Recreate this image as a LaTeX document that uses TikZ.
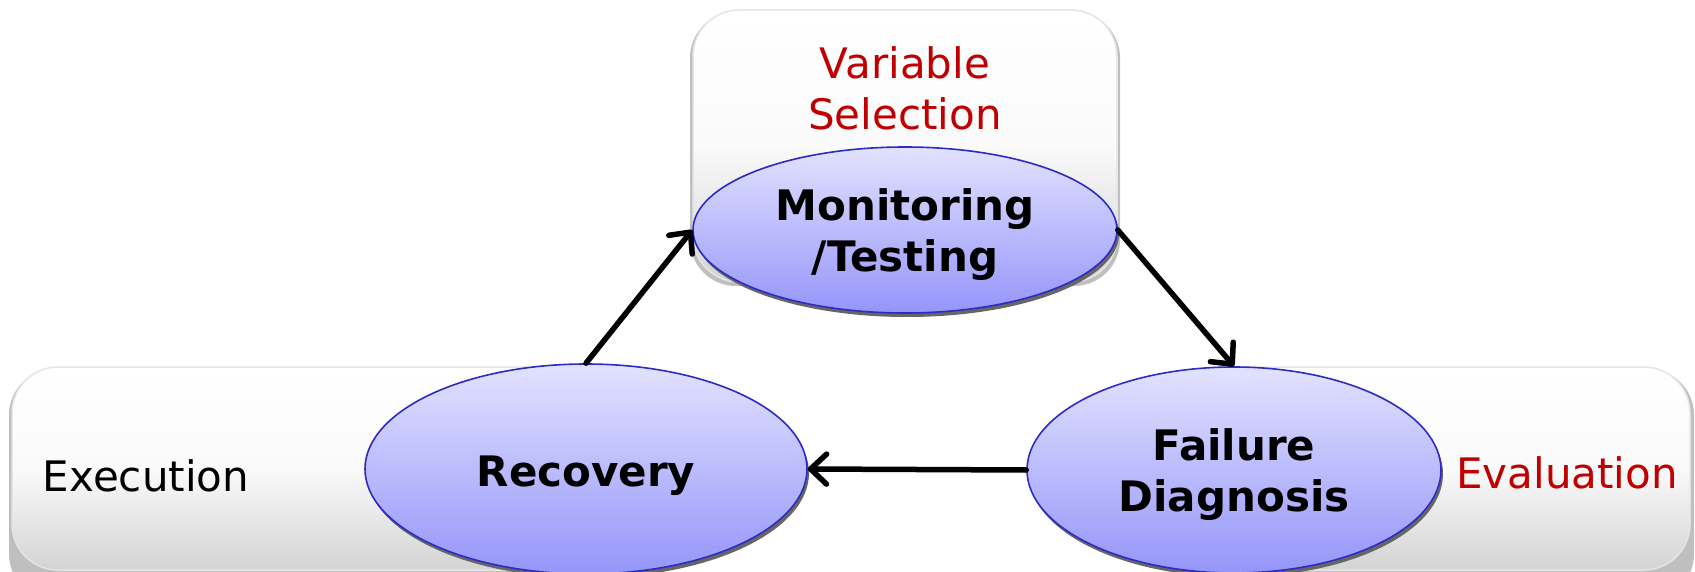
\documentclass[tikz,border=0pt]{standalone}
\usepackage{fontspec}
\setmainfont{DejaVu Sans}
\usetikzlibrary{shapes.geometric,arrows.meta,shadows}
\definecolor{stageRed}{HTML}{C00000}
\definecolor{bubbleTop}{HTML}{E2E2FF}
\definecolor{bubbleBot}{HTML}{9595FA}
\definecolor{bubbleLine}{HTML}{2C2CC4}
\tikzset{
  panel/.style={rounded corners=46pt, top color=white, bottom color=black!17,
    middle color=black!2, draw=black!10, line width=1.5pt},
  panelshadow/.style={rounded corners=46pt, fill=black!25},
  bubble/.style={ellipse, inner sep=0pt, draw=bubbleLine, line width=1.6pt,
    top color=bubbleTop, bottom color=bubbleBot,
    drop shadow={shadow xshift=2pt, shadow yshift=-4pt, fill=black!60, opacity=1}},
  bubbletext/.style={align=center, font=\fontsize{42}{51}\selectfont\bfseries},
  stagelabel/.style={align=center, font=\fontsize{42}{51}\selectfont},
  conn/.style={line width=5.5pt, line cap=round, line join=round,
    -{Straight Barb[length=16pt, width=30pt, round]}}
}
\begin{document}
\begin{tikzpicture}[x=1pt, y=-1pt]
\useasboundingbox (0,0) rectangle (1695,572);
\begin{scope}
\clip (0,0) rectangle (1695,572);
% stage panels (the inner ends are hidden under the ellipses)
\fill[panelshadow] (690,12) rectangle (1120,286);
\path[panel] (693,10) rectangle (1117,282);
\fill[panelshadow] (9,369) rectangle (640,600);
\path[panel] (12,367) rectangle (636,570);
\fill[panelshadow] (1180,369) rectangle (1694,600);
\path[panel] (1184,367) rectangle (1690,570);
\end{scope}
% stage names
\node[stagelabel, text=stageRed] (sel) at (905,88) {Variable\\Selection};
\node[stagelabel] (exe) at (146,476) {Execution};
\node[stagelabel, text=stageRed] (eva) at (1567,473) {Evaluation};
% cycle steps
\node[bubble, minimum width=424pt, minimum height=166pt] (mon) at (905,230) {};
\node[bubble, minimum width=442pt, minimum height=210pt] (rec) at (586,469) {};
\node[bubble, minimum width=414pt, minimum height=206pt] (fail) at (1234,470) {};
\node[bubbletext] (monT) at ([yshift=-5pt]mon.center) {Monitoring\\/Testing};
\node[bubbletext] (recT) at ([yshift=-7pt]rec.center) {Recovery};
\node[bubbletext] (failT) at ([yshift=-5pt]fail.center) {Failure\\Diagnosis};
% cycle arrows
\draw[conn] (rec.north) -- (mon.west);
\draw[conn] (mon.east) -- (fail.north);
\draw[conn] (fail.west) -- (rec.east);
\end{tikzpicture}
\end{document}
